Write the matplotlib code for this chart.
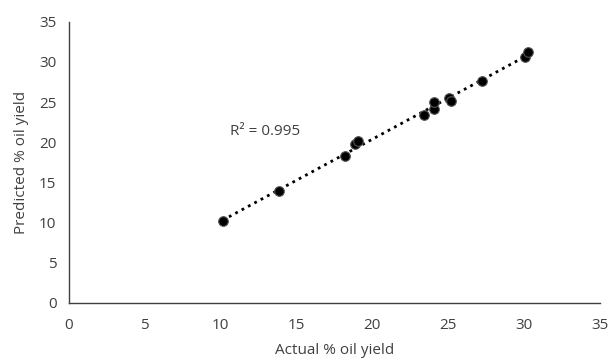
import numpy as np
import matplotlib.pyplot as plt

# data
actual = [10.13, 13.84, 18.21, 18.85, 19.07, 23.38, 24.04, 24.04, 25.07, 25.2, 27.23, 30.08, 30.30]
predicted = [10.16, 13.89, 18.32, 19.74, 20.15, 23.35, 24.09, 25.04, 25.54, 25.12, 27.61, 30.63, 31.26]
ticks = [0, 5, 10, 15, 20, 25, 30, 35]
r2_label = 'R² = 0.995'

plt.rcParams['font.family'] = ['Open Sans', 'DejaVu Sans']

fig = plt.figure(figsize=(6.12, 3.61), dpi=100)
ax = fig.add_axes([0.1127, 0.1607, 0.8673, 0.7793])

x = np.array(actual)
y = np.array(predicted)

# linear trendline
k, b = np.polyfit(x, y, 1)
xl = np.array([x.min(), x.max()])
ax.plot(xl, k * xl + b, color='black', linestyle=(0, (1, 1.6)), linewidth=2.0, zorder=2)

ax.scatter(x, y, s=48, color='black', edgecolors='#555555', linewidths=0.8, zorder=3)

ax.text(10.6, 21.3, r2_label, fontsize=11, color='#404040', ha='left', va='center')

ax.set_xlim(0, 35)
ax.set_ylim(0, 35)
ax.set_xticks(ticks)
ax.set_yticks(ticks)
ax.tick_params(length=0, labelsize=11, colors='#404040')
ax.tick_params(axis='x', pad=11)
ax.tick_params(axis='y', pad=9)

for s in ['top', 'right']:
    ax.spines[s].set_visible(False)
for s in ['left', 'bottom']:
    ax.spines[s].set_color('#404040')
    ax.spines[s].set_linewidth(1.0)

ax.set_xlabel('Actual % oil yield', fontsize=11, color='#404040', labelpad=7)
ax.set_ylabel('Predicted % oil yield', fontsize=11, color='#404040', labelpad=7)

fig.savefig('out.png', dpi=100)
